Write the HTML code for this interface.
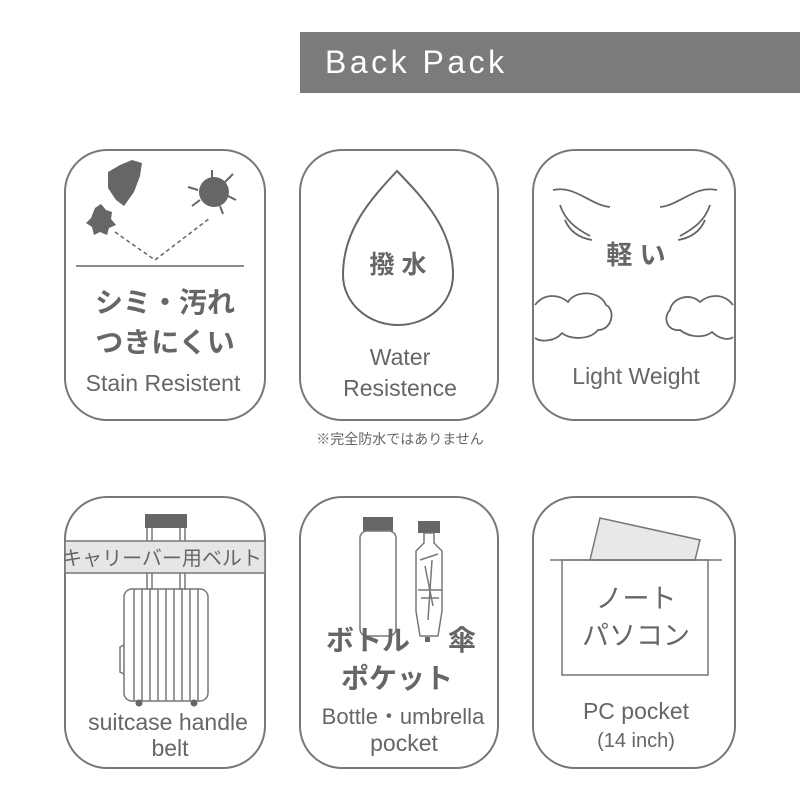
<!DOCTYPE html>
<html><head><meta charset="utf-8"><style>
body{margin:0;background:#fff;width:800px;height:800px;overflow:hidden}
svg{display:block}
text{font-family:"Liberation Sans","Noto Sans CJK JP",sans-serif;fill:#666}
</style></head><body>
<svg width="800" height="800" viewBox="0 0 800 800">
<rect x="300" y="32" width="500" height="61" fill="#7b7b7b"/>
<text x="325" y="73" font-size="32" letter-spacing="3.5" style="fill:#fff">Back Pack</text>
<g fill="none" stroke="#777" stroke-width="2">
<rect x="65" y="150" width="200" height="270" rx="42"/>
<rect x="300" y="150" width="198" height="270" rx="42"/>
<rect x="533" y="150" width="202" height="270" rx="42"/>
<rect x="65" y="497" width="200" height="271" rx="42"/>
<rect x="300" y="497" width="198" height="271" rx="42"/>
<rect x="533" y="497" width="202" height="271" rx="42"/>
</g>
<!-- card1 -->
<path d="M108 172 L120 165 L132 160 L142 163 L140 176 L134 192 L124 206 L116 200 L108 188Z" fill="#666"/>
<path d="M95 208 l6 -4 l5 6 l6 2 l-1 7 l5 6 l-7 3 l-2 7 l-7 -3 l-6 3 l-2 -8 l-6 -4 l5 -5z" fill="#666"/>
<circle cx="214" cy="192" r="15" fill="#666"/>
<path d="M198 190 l-10 -3 M200 200 l-8 6 M225 182 l8 -8 M228 196 l8 4 M212 178 l0 -8 M220 206 l3 8" stroke="#666" stroke-width="2"/>
<path d="M115 232 L155 260 L210 218" fill="none" stroke="#666" stroke-width="1.5" stroke-dasharray="4,3"/>
<line x1="76" y1="266" x2="244" y2="266" stroke="#666" stroke-width="1.5"/>
<text x="165" y="312" font-size="28" font-weight="bold" text-anchor="middle">シミ・汚れ</text>
<text x="165" y="352" font-size="28" font-weight="bold" text-anchor="middle">つきにくい</text>
<text x="163" y="391" font-size="23" text-anchor="middle">Stain Resistent</text>
<!-- card2 -->
<path d="M397 171 C370 200 343 230 343 275 C343 303 368 325 398 325 C428 325 453 303 453 275 C453 230 425 200 397 171Z" fill="none" stroke="#666" stroke-width="2"/>
<text x="398" y="273" font-size="25" font-weight="bold" text-anchor="middle">撥 水</text>
<text x="400" y="365" font-size="23" text-anchor="middle">Water</text>
<text x="400" y="396" font-size="23" text-anchor="middle">Resistence</text>
<text x="400" y="444" font-size="14" text-anchor="middle">※完全防水ではありません</text>
<!-- card3 -->
<g fill="none" stroke="#666" stroke-width="1.8">
<path d="M553 190 C575 185 590 205 610 207 M560 205 C565 220 575 228 590 236 M565 220 C570 232 580 238 592 240"/>
<path d="M717 190 C695 185 680 205 660 207 M710 205 C705 220 695 228 680 236 M705 220 C700 232 690 238 678 240"/>
<path d="M535 305 C545 292 560 295 568 302 C575 290 600 290 606 305 C616 310 612 330 598 330 C590 340 570 340 562 333 C555 342 540 342 535 338"/>
<path d="M733 305 C723 292 708 295 700 302 C690 292 672 298 670 310 C662 318 668 332 680 330 C690 338 705 338 712 332 C720 340 730 340 733 337"/>
</g>
<text x="636" y="264" font-size="26" font-weight="bold" text-anchor="middle">軽 い</text>
<text x="636" y="384" font-size="23" text-anchor="middle">Light Weight</text>
<!-- card4 -->
<rect x="145" y="514" width="42" height="14" fill="#666"/>
<g fill="none" stroke="#777" stroke-width="1.5">
<line x1="147" y1="528" x2="147" y2="590"/><line x1="152" y1="528" x2="152" y2="590"/>
<line x1="180" y1="528" x2="180" y2="590"/><line x1="185" y1="528" x2="185" y2="590"/>
<rect x="124" y="589" width="84" height="112" rx="8"/>
<line x1="134" y1="589" x2="134" y2="701"/><line x1="142" y1="589" x2="142" y2="701"/>
<line x1="150" y1="589" x2="150" y2="701"/><line x1="158" y1="589" x2="158" y2="701"/>
<line x1="166" y1="589" x2="166" y2="701"/><line x1="174" y1="589" x2="174" y2="701"/>
<line x1="182" y1="589" x2="182" y2="701"/><line x1="190" y1="589" x2="190" y2="701"/>
<line x1="198" y1="589" x2="198" y2="701"/>
<path d="M124 645 l-4 2 v25 l4 2"/>
</g>
<circle cx="139" cy="703" r="3.5" fill="#666"/><circle cx="194" cy="703" r="3.5" fill="#666"/>
<rect x="65" y="541" width="200" height="32" fill="#e6e6e6" stroke="#777" stroke-width="1.5"/>
<text x="162" y="565" font-size="20" text-anchor="middle">キャリーバー用ベルト</text>
<text x="168" y="730" font-size="23" text-anchor="middle">suitcase handle</text>
<text x="170" y="756" font-size="23" text-anchor="middle">belt</text>
<!-- card5 -->
<rect x="363" y="517" width="30" height="14" fill="#666"/>
<rect x="360" y="531" width="36" height="105" rx="7" fill="none" stroke="#777" stroke-width="1.5"/>
<rect x="418" y="521" width="22" height="12" fill="#666"/>
<path d="M424 533 h10 v10 l8 8 v60 l-4 25 h-18 l-4 -25 v-60 l8 -8z" fill="none" stroke="#777" stroke-width="1.5"/>
<path d="M420 560 l18 -6 M418 590 h24 M421 598 h18 M425 566 l8 40 M432 560 l-4 60" fill="none" stroke="#777" stroke-width="1.5"/>
<rect x="425" y="637" width="5" height="5" fill="#666"/>
<text x="368" y="650" font-size="28" font-weight="bold" text-anchor="middle">ボトル</text>
<text x="462" y="650" font-size="28" font-weight="bold" text-anchor="middle">傘</text>
<text x="397" y="688" font-size="28" font-weight="bold" text-anchor="middle">ポケット</text>
<text x="403" y="724" font-size="22" text-anchor="middle">Bottle・umbrella</text>
<text x="404" y="751" font-size="23" text-anchor="middle">pocket</text>
<!-- card6 -->
<path d="M590 560 L600 518 L700 540 L695 560Z" fill="#e8e8e8" stroke="#777" stroke-width="1.5"/>
<line x1="550" y1="560" x2="722" y2="560" stroke="#777" stroke-width="1.5"/>
<rect x="562" y="560" width="146" height="115" fill="none" stroke="#777" stroke-width="1.5"/>
<text x="636" y="608" font-size="27" text-anchor="middle">ノート</text>
<text x="636" y="645" font-size="27" text-anchor="middle">パソコン</text>
<text x="636" y="719" font-size="23" text-anchor="middle">PC pocket</text>
<text x="636" y="747" font-size="20" text-anchor="middle">(14 inch)</text>
</svg>
</body></html>
